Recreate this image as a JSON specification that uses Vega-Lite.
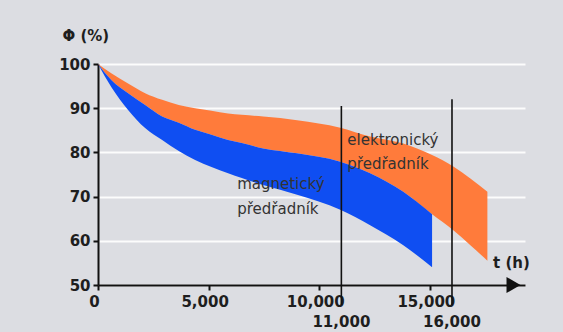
{
  "$schema": "https://vega.github.io/schema/vega-lite/v6.json",
  "width": 427,
  "height": 221,
  "autosize": {"type": "none"},
  "padding": {"left": 98, "top": 64, "right": 38, "bottom": 47},
  "background": "#dcdde2",
  "config": {"view": {"stroke": null}, "font": "DejaVu Sans"},
  "datasets": {
    "elektronicky": [
      {"t": 0, "v": 100, "v2": 100},
      {"t": 600, "v": 96.4, "v2": 97.9},
      {"t": 1360, "v": 93.4, "v2": 95.6},
      {"t": 2130, "v": 90.7, "v2": 93.4},
      {"t": 2900, "v": 88.1, "v2": 91.9},
      {"t": 3650, "v": 86.7, "v2": 90.7},
      {"t": 4390, "v": 85.1, "v2": 90.0},
      {"t": 5130, "v": 84.0, "v2": 89.4},
      {"t": 5880, "v": 82.8, "v2": 88.8},
      {"t": 6500, "v": 82.1, "v2": 88.5},
      {"t": 7470, "v": 80.9, "v2": 88.1},
      {"t": 9000, "v": 79.8, "v2": 87.3},
      {"t": 10950, "v": 77.9, "v2": 85.6},
      {"t": 12300, "v": 75.3, "v2": 83.6},
      {"t": 13800, "v": 71.1, "v2": 82.0},
      {"t": 15100, "v": 66.0, "v2": 79.4},
      {"t": 16060, "v": 62.4, "v2": 76.8},
      {"t": 16830, "v": 59.0, "v2": 74.1},
      {"t": 17600, "v": 55.5, "v2": 71.1}
    ],
    "magneticky": [
      {"t": 0, "v": 100, "v2": 100},
      {"t": 600, "v": 94.8, "v2": 96.4},
      {"t": 1360, "v": 89.6, "v2": 93.4},
      {"t": 2130, "v": 85.5, "v2": 90.7},
      {"t": 2900, "v": 82.8, "v2": 88.1},
      {"t": 3650, "v": 80.3, "v2": 86.7},
      {"t": 4390, "v": 78.3, "v2": 85.1},
      {"t": 5130, "v": 76.7, "v2": 84.0},
      {"t": 5880, "v": 75.3, "v2": 82.8},
      {"t": 6500, "v": 74.2, "v2": 82.1},
      {"t": 7470, "v": 72.6, "v2": 80.9},
      {"t": 9000, "v": 70.4, "v2": 79.8},
      {"t": 10950, "v": 67.0, "v2": 77.9},
      {"t": 12300, "v": 63.5, "v2": 75.3},
      {"t": 13800, "v": 59.0, "v2": 71.1},
      {"t": 15100, "v": 54.0, "v2": 66.0}
    ],
    "lines": [
      {"t": 11000, "v": 90.5, "v2": 45.5},
      {"t": 16000, "v": 92, "v2": 45.5}
    ],
    "labels": [
      {"label": "elektronický", "t": 11270, "v": 82.8},
      {"label": "předřadník", "t": 11270, "v": 77.3},
      {"label": "magnetický", "t": 6290, "v": 72.8},
      {"label": "předřadník", "t": 6290, "v": 67.2}
    ],
    "bold": [
      {"label": "11,000", "t": 11000, "v": 41.6},
      {"label": "16,000", "t": 16000, "v": 41.6},
      {"label": "t (h)", "t": 18690, "v": 55}
    ],
    "arrow": [{"t": 18780, "v": 50}]
  },
  "encoding": {
    "x": {
      "field": "t", "type": "quantitative",
      "scale": {"domain": [0, 19300], "nice": false, "zero": false},
      "axis": {
        "title": null, "values": [0, 5000, 10000, 15000],
        "labelExpr": "datum.value == 5000 ? '5,000' : datum.value == 10000 ? '10,000' : datum.value == 15000 ? '15,000' : '0'",
        "grid": false, "labelFlush": false, "labelFont": "DejaVu Sans", "labelFontWeight": "bold",
        "labelFontSize": 15, "labelColor": "#1e1e1e", "labelPadding": 4, "labelOffset": -4,
        "domainColor": "#111111", "domainWidth": 2, "tickColor": "#111111", "tickWidth": 2, "tickSize": 5
      }
    },
    "y": {
      "field": "v", "type": "quantitative",
      "scale": {"domain": [50, 100], "nice": false, "zero": false},
      "axis": {
        "title": "Φ (%)", "titleAngle": 0, "titleAlign": "left", "titleBaseline": "middle",
        "titleX": -36, "titleY": -29, "titleFontSize": 15, "titleFontWeight": "bold", "titleColor": "#1e1e1e",
        "values": [50, 60, 70, 80, 90, 100],
        "grid": true, "gridColor": "#ffffff", "gridWidth": 2, "gridOpacity": 0.9,
        "labelFont": "DejaVu Sans", "labelFontWeight": "bold", "labelFontSize": 15, "labelColor": "#1e1e1e",
        "labelPadding": 3, "domainColor": "#111111", "domainWidth": 2, "tickColor": "#111111", "tickWidth": 2, "tickSize": 5
      }
    }
  },
  "layer": [
    {
      "data": {"name": "elektronicky"},
      "mark": {"type": "area", "color": "#ff7b3b", "interpolate": "monotone"},
      "encoding": {"y2": {"field": "v2"}}
    },
    {
      "data": {"name": "magneticky"},
      "mark": {"type": "area", "color": "#0f4ef2", "interpolate": "monotone"},
      "encoding": {"y2": {"field": "v2"}}
    },
    {
      "data": {"name": "lines"},
      "mark": {"type": "rule", "color": "#111111", "strokeWidth": 1.6},
      "encoding": {"y2": {"field": "v2"}}
    },
    {
      "data": {"name": "labels"},
      "mark": {"type": "text", "align": "left", "baseline": "middle", "font": "DejaVu Sans", "fontSize": 15, "color": "#333333"},
      "encoding": {"text": {"field": "label"}}
    },
    {
      "data": {"name": "bold"},
      "mark": {"type": "text", "align": "center", "baseline": "middle", "font": "DejaVu Sans", "fontSize": 15, "fontWeight": "bold", "color": "#1e1e1e"},
      "encoding": {"text": {"field": "label"}}
    },
    {
      "data": {"name": "arrow"},
      "mark": {"type": "point", "shape": "triangle-right", "filled": true, "size": 260, "color": "#111111", "opacity": 1},
      "encoding": {}
    }
  ]
}
